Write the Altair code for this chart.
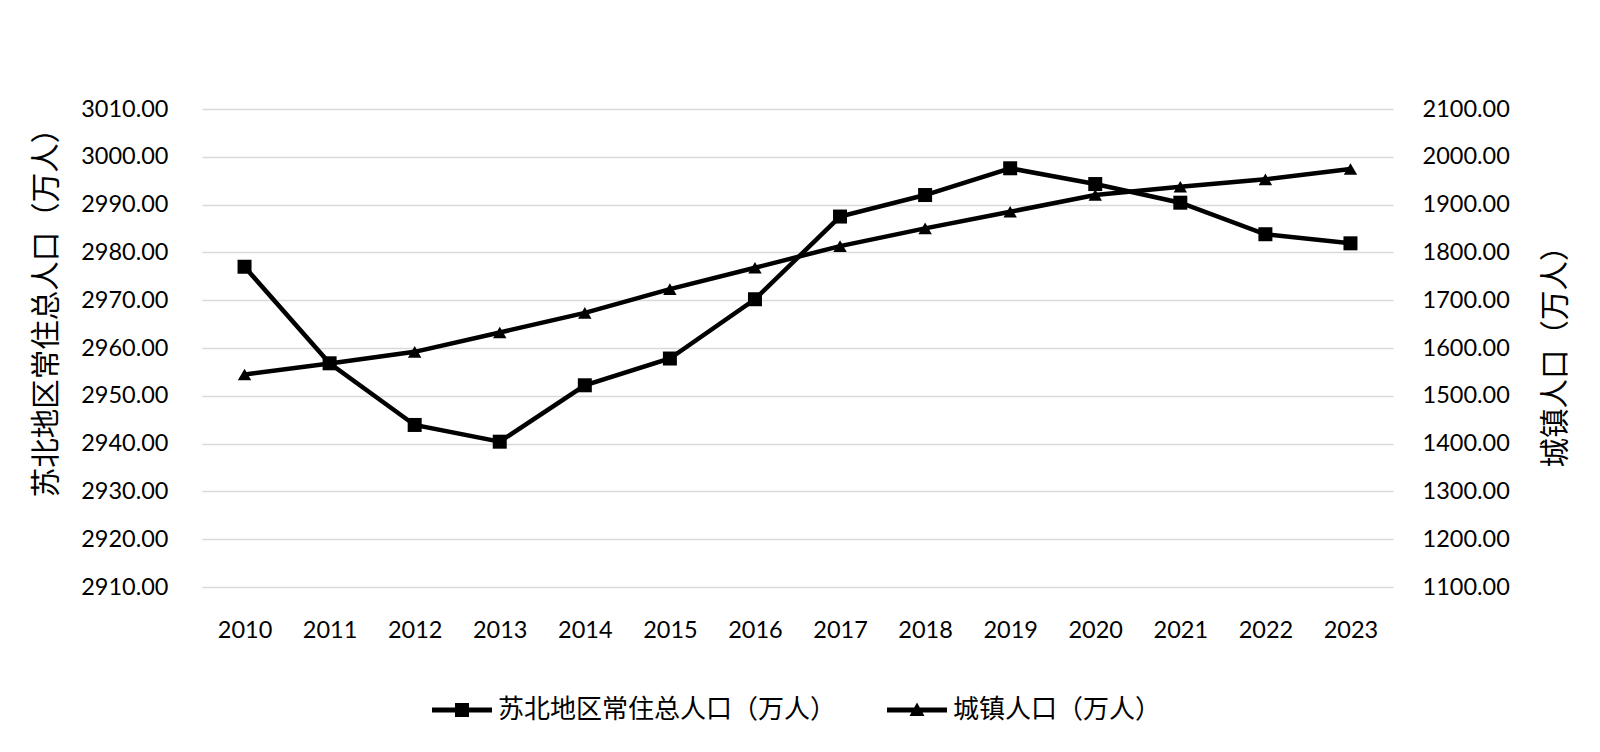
import altair as alt
import pandas as pd

# ---- data ----
years = ["2010", "2011", "2012", "2013", "2014", "2015", "2016",
         "2017", "2018", "2019", "2020", "2021", "2022", "2023"]
total_pop = [2977.0, 2956.8, 2943.9, 2940.4, 2952.2, 2957.8, 2970.2,
             2987.5, 2992.0, 2997.6, 2994.3, 2990.4, 2983.8, 2981.9]
urban_pop = [1544.6, 1567.7, 1592.0, 1632.5, 1673.6, 1723.2, 1767.8,
             1813.2, 1850.2, 1885.0, 1920.0, 1937.4, 1952.8, 1974.4]
series_names = ["苏北地区常住总人口（万人）", "城镇人口（万人）"]
left_ticks = [2910, 2920, 2930, 2940, 2950, 2960, 2970, 2980, 2990, 3000, 3010]
right_ticks = [1100, 1200, 1300, 1400, 1500, 1600, 1700, 1800, 1900, 2000, 2100]

df = pd.DataFrame({"year": years, "total": total_pop, "urban": urban_pop})
legend_df = pd.DataFrame({"year": [years[0], years[0]],
                          "total": [None, None],
                          "series": series_names})

NUM_FONT = "Lato"
CJK_FONT = "Noto Sans CJK SC"
GRID = "#d9d9d9"

# legend symbols: line + marker
sym_square = "M-1,-0.08H1V0.08H-1Z M-0.233,-0.233H0.233V0.233H-0.233Z"
sym_tri = "M-1,-0.08H1V0.08H-1Z M0,-0.25L0.25,0.2H-0.25Z"

x_enc = alt.X("year:O", sort=years,
              scale=alt.Scale(type="point", padding=0.5),
              axis=alt.Axis(title=None, labelAngle=0, ticks=False, tickSize=0,
                            domain=False, grid=False, labelPadding=31,
                            labelFont=NUM_FONT, labelFontSize=23.5, labelColor="#000000"))

y_left = alt.Y("total:Q",
               scale=alt.Scale(domain=[2910, 3010], nice=False, zero=False),
               axis=alt.Axis(title="苏北地区常住总人口（万人）", orient="left",
                             values=left_ticks, format=".2f",
                             ticks=False, tickSize=0, domain=False,
                             grid=True, gridColor=GRID, gridWidth=1.5,
                             labelPadding=34, labelFont=NUM_FONT, labelFontSize=23.5,
                             labelColor="#000000",
                             titleFont=CJK_FONT, titleFontSize=29.5, titleFontWeight="normal",
                             titleColor="#000000", titleAngle=270,
                             titleAlign="center", titleBaseline="middle",
                             titleX=-156, titleY=196))

y_right = alt.Y("urban:Q",
                scale=alt.Scale(domain=[1100, 2100], nice=False, zero=False),
                axis=alt.Axis(title="城镇人口（万人）", orient="right",
                              values=right_ticks, format=".2f",
                              ticks=False, tickSize=0, domain=False, grid=False,
                              labelPadding=29, labelFont=NUM_FONT, labelFontSize=23.5,
                              labelColor="#000000",
                              titleFont=CJK_FONT, titleFontSize=29.5, titleFontWeight="normal",
                              titleColor="#000000", titleAngle=270,
                              titleAlign="center", titleBaseline="middle",
                              titleX=162, titleY=240))

base = alt.Chart(df)

line1 = base.mark_line(color="#000000", strokeWidth=4.5).encode(x=x_enc, y=y_left)
pts1 = base.mark_point(shape="square", filled=True, color="#000000", size=196,
                       opacity=1).encode(x=x_enc, y=y_left)

legend_layer = alt.Chart(legend_df).mark_point(filled=True, color="#000000", opacity=1).encode(
    x=x_enc,
    y=y_left,
    shape=alt.Shape("series:N",
                    scale=alt.Scale(domain=series_names, range=[sym_square, sym_tri]),
                    legend=alt.Legend(title=None, orient="none", direction="horizontal",
                                      legendX=230, legendY=571,
                                      symbolSize=3600, symbolFillColor="#000000",
                                      symbolStrokeWidth=0,
                                      labelFont=CJK_FONT, labelFontSize=26,
                                      labelColor="#000000", labelOffset=6,
                                      columnPadding=50, padding=0,
                                      labelLimit=600))
)

line2 = base.mark_line(color="#000000", strokeWidth=4.5).encode(x=x_enc, y=y_right)
pts2 = base.mark_point(shape="triangle-up", filled=True, color="#000000", size=180,
                       opacity=1).encode(x=x_enc, y=y_right)

left = alt.layer(line1, pts1, legend_layer)
right = alt.layer(line2, pts2)

chart = alt.layer(left, right).resolve_scale(y="independent").properties(
    width=1191,
    height=478,
    padding={"left": 194, "top": 101, "right": 199, "bottom": 150},
    autosize=alt.AutoSizeParams(type="none"),
    background="#ffffff",
).configure_view(stroke=None)

chart.save("out.html", embed_options={"renderer": "svg", "actions": False})
